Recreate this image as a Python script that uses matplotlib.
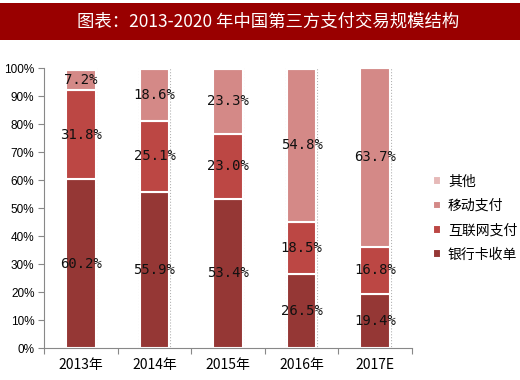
import numpy as np
import matplotlib
matplotlib.use('Agg')
import matplotlib.pyplot as plt
from matplotlib.patches import Rectangle

plt.rcParams['font.family'] = ['Noto Sans CJK SC', 'DejaVu Sans']

years = ['2013年', '2014年', '2015年', '2016年', '2017E']
series = ['银行卡收单', '互联网支付', '移动支付', '其他']
bank = [60.2, 55.9, 53.4, 26.5, 19.4]
web = [31.8, 25.1, 23.0, 18.5, 16.8]
mobile = [7.2, 18.6, 23.3, 54.8, 63.7]
other = [0.8, 0.4, 0.3, 0.2, 0.1]
colors = ['#953735', '#BC4744', '#D48987', '#E6B9B8']

fig = plt.figure(figsize=(5.2, 3.8), dpi=100)
fig.patches.append(Rectangle((0, 0.895), 1, 0.097, transform=fig.transFigure,
                             facecolor='#990000', edgecolor='none'))
fig.text(0.515, 0.943, '图表：2013-2020 年中国第三方支付交易规模结构', color='white',
         fontsize=12.5, fontweight='medium', ha='center', va='center')

ax = fig.add_axes([0.085, 0.084, 0.707, 0.737])
x = np.arange(len(years))
w = 0.4

# faint dotted outline behind each bar
ax.bar(x, 100, width=w + 0.02, facecolor='none', edgecolor='#b0b0b0',
       linestyle=':', linewidth=0.8, zorder=1)

bottom = np.zeros(len(years))
for vals, name, c in zip([bank, web, mobile, other], series, colors):
    vals = np.array(vals)
    ax.bar(x, vals, width=w, bottom=bottom, color=c, edgecolor='white',
           linewidth=1.5, label=name, zorder=2)
    if name != '其他':
        for xi, b, v in zip(x, bottom, vals):
            ax.text(xi, b + v / 2, f'{v:.1f}%', ha='center', va='center',
                    fontsize=10, family='DejaVu Sans Mono', color='#111111', zorder=3)
    bottom += vals

ax.set_xlim(-0.5, 4.5)
ax.set_ylim(0, 100)
ax.set_yticks(range(0, 101, 10))
ax.set_yticklabels([f'{v}%' for v in range(0, 101, 10)], fontsize=8.5,
                   family='Liberation Sans')
ax.set_xticks(np.arange(-0.5, 5, 1))
ax.set_xticklabels([])
ax.set_xticks(x, minor=True)
ax.set_xticklabels(years, minor=True, fontsize=10)
ax.tick_params(axis='x', which='minor', length=0, pad=7)
ax.tick_params(axis='both', which='major', length=4, color='#888888', width=0.8)
ax.tick_params(axis='y', pad=3)
for s in ['top', 'right']:
    ax.spines[s].set_visible(False)
for s in ['left', 'bottom']:
    ax.spines[s].set_color('#888888')
    ax.spines[s].set_linewidth(0.8)

h, l = ax.get_legend_handles_labels()
fig.legend(h[::-1], l[::-1], loc='center left', bbox_to_anchor=(0.832, 0.426),
           frameon=False, fontsize=10, handlelength=0.6, handleheight=0.6,
           handletextpad=0.5, labelspacing=0.75, borderpad=0, borderaxespad=0)

fig.savefig('out.png', dpi=100)
